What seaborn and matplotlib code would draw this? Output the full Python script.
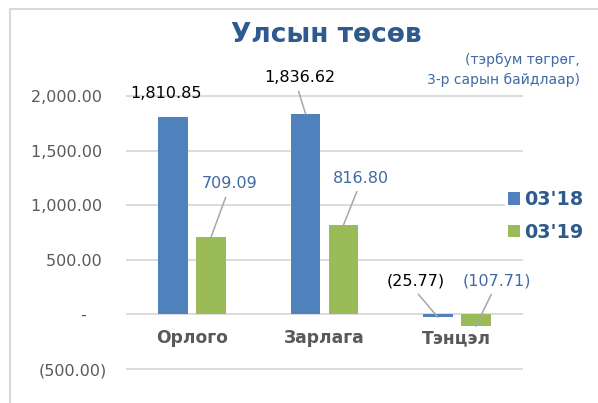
import matplotlib
matplotlib.use("Agg")
import matplotlib.pyplot as plt
import seaborn as sns
import pandas as pd
from matplotlib.patches import Rectangle

# ---- data ----
categories = ["Орлого", "Зарлага", "Тэнцэл"]
periods = ["03'18", "03'19"]
values_0318 = [1810.85, 1836.62, -25.77]
values_0319 = [709.09, 816.80, -107.71]
yticks = [-500, 0, 500, 1000, 1500, 2000]
title = "Улсын төсөв"
subtitle = "(тэрбум төгрөг,\n3-р сарын байдлаар)"

# ---- styling ----
BLUE = "#4F81BD"
GREEN = "#9BBB59"
TITLE_C = "#2F5A8E"
LABEL_BLUE = "#3F6AA5"
GRAY_TXT = "#595959"
GRID_C = "#D9D9D9"

sns.set_style("white")
plt.rcParams["font.family"] = ["DejaVu Sans"]

df = pd.DataFrame({
    "category": categories * 2,
    "period": [periods[0]] * 3 + [periods[1]] * 3,
    "value": values_0318 + values_0319,
})

W, H = 598, 403
fig = plt.figure(figsize=(W / 100, H / 100), dpi=100)
ax = fig.add_axes([126 / W, 0.0789, 397 / W, 0.6883])

sns.barplot(data=df, x="category", y="value", hue="period",
            palette=[BLUE, GREEN], width=0.572, gap=0.22,
            errorbar=None, ax=ax, order=categories, hue_order=periods,
            saturation=1, zorder=3, linewidth=0, edgecolor="none")

ax.set_xlim(-0.5, 2.5)
ax.set_ylim(-520, 2020)
ax.set_axisbelow(True)
for s in ax.spines.values():
    s.set_visible(False)
ax.set_xlabel("")
ax.set_ylabel("")
ax.set_xticks([])


def acct(v):
    if v > 0:
        return f"{v:,.2f}\u2008"
    if v == 0:
        return "-\u2007\u2007"
    return f"({abs(v):,.2f})"


ax.set_yticks(yticks)
ax.set_yticklabels([acct(v) for v in yticks])
ax.tick_params(axis="y", length=0, pad=13.7, labelsize=11.5, labelcolor=GRAY_TXT)
ax.yaxis.grid(True, color=GRID_C, lw=1.3)

# data labels
series_vals = [values_0318, values_0319]
label_colors = ["black", LABEL_BLUE]
offsets = [[(-7, 23), (-6, 36), (-22, 36)],
           [(19, 53), (18, 47), (21, 45)]]
show_line = [[False, True, True], [True, True, True]]
for si, cont in enumerate(ax.containers):
    for ci, bar in enumerate(cont):
        v = series_vals[si][ci]
        xc = bar.get_x() + bar.get_width() / 2
        yend = bar.get_y() + bar.get_height()
        txt = f"{v:,.2f}" if v >= 0 else f"({abs(v):,.2f})"
        ap = None
        if show_line[si][ci]:
            ap = dict(arrowstyle="-", color="#A6A6A6", lw=1.1,
                      relpos=(0.46, 0), shrinkA=2, shrinkB=0)
        ax.annotate(txt, xy=(xc, yend), xytext=offsets[si][ci],
                    textcoords="offset pixels", ha="center", va="center",
                    fontsize=11.5, color=label_colors[si], arrowprops=ap,
                    annotation_clip=False, zorder=5)

# category labels under zero line
for i, c in enumerate(categories):
    ax.annotate(c, xy=(i, 0), xytext=(0, -24), textcoords="offset pixels",
                ha="center", va="center", fontsize=12.3, fontweight="bold",
                color=GRAY_TXT, annotation_clip=False)

# legend
handles, labels = ax.get_legend_handles_labels()
leg = ax.legend(handles, labels, loc="center left",
                bbox_to_anchor=(505 / W, 1 - 216 / H),
                bbox_transform=fig.transFigure, frameon=True,
                facecolor="white", edgecolor="white", framealpha=1,
                borderpad=0.15, borderaxespad=0, handlelength=0.62,
                handleheight=0.62, handletextpad=0.25, labelspacing=0.7,
                prop=dict(size=13.8, weight="bold"))
for t in leg.get_texts():
    t.set_color(TITLE_C)
for p in leg.get_patches():
    p.set_linewidth(0)
leg.set_zorder(10)

# title / subtitle
fig.text(326.5 / W, 1 - 35 / H, title, ha="center", va="center",
         fontsize=19, fontweight="bold", color=TITLE_C)
fig.text(580 / W, 1 - 70 / H, subtitle, ha="right", va="center",
         multialignment="right", fontsize=10, linespacing=1.5,
         color=LABEL_BLUE)

# outer chart frame
fig.add_artist(Rectangle((9.5 / W, -0.1), 1.2, 1.1 - 9.5 / H,
                         transform=fig.transFigure, fill=False,
                         edgecolor=GRID_C, lw=1.5))

fig.savefig("out.png", dpi=100)
